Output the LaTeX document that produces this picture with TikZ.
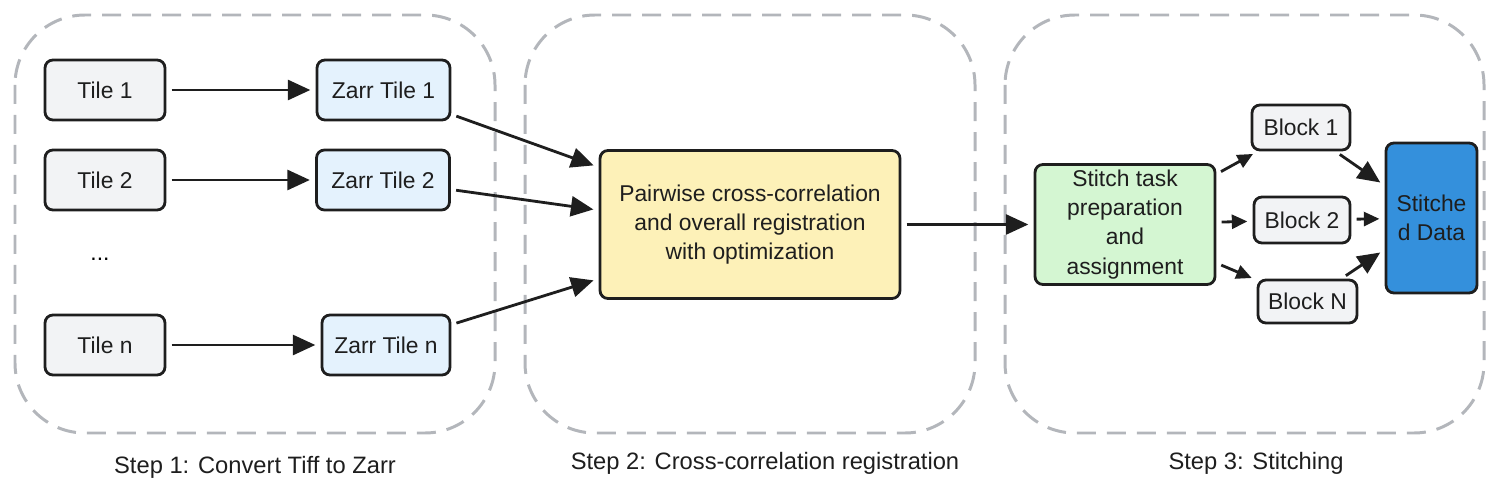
\documentclass[tikz,border=0pt]{standalone}
\usepackage{fontspec}
\setmainfont{Liberation Sans}
\usetikzlibrary{arrows.meta,positioning,calc}
\definecolor{tilegrey}{HTML}{F2F3F5}
\definecolor{zarrblue}{HTML}{E4F2FD}
\definecolor{regyellow}{HTML}{FDF1B8}
\definecolor{stitchgreen}{HTML}{D4F6D2}
\definecolor{datablue}{HTML}{3490DC}
\definecolor{groupgrey}{HTML}{B3B6BB}
\definecolor{edgeblack}{HTML}{1E1E1E}
\tikzset{
  box/.style      = {draw=edgeblack, line width=1.6pt, rounded corners=4.5pt, inner sep=2pt,
                     align=center, text=edgeblack, font=\fontsize{13}{16.6}\selectfont},
  tile/.style     = {box, fill=tilegrey, minimum width=2.4cm, minimum height=1.2cm},
  zarr/.style     = {box, fill=zarrblue, minimum width=2.66cm, minimum height=1.2cm},
  block/.style    = {box, fill=tilegrey, minimum width=1.96cm, minimum height=0.9cm},
  group/.style    = {draw=groupgrey, line width=1.7pt, dash pattern=on 0.38cm off 0.22cm,
                     rounded corners=1.4cm},
  sig/.style      = {-{Triangle[length=0.45cm, width=0.4cm]}, line width=1.6pt, draw=edgeblack,
                     shorten <=3pt, shorten >=3pt},
  sigsmall/.style = {sig, -{Triangle[length=0.31cm, width=0.28cm]}},
  steplbl/.style  = {font=\fontsize{13.5}{16}\selectfont, text=edgeblack},
}

\begin{document}
\begin{tikzpicture}[x=0.02cm, y=-0.02cm]
  \useasboundingbox (0,0) rectangle (1500,500);
  % step groups
  \draw[group] (15,15) rectangle (495,433);
  \draw[group] (525,15) rectangle (975,433);
  \draw[group] (1005,15) rectangle (1484,433);
  \node[steplbl] (lbl1) at (255,467) {Step 1: Convert Tiff to Zarr};
  \node[steplbl] (lbl2) at (765,463) {Step 2: Cross-correlation registration};
  \node[steplbl] (lbl3) at (1256,463) {Step 3: Stitching};

  % step 1
  \node[tile] (t1) at (105,90) {Tile 1};
  \node[tile] (t2) at (105,180) {Tile 2};
  \node[font=\fontsize{13}{16}\selectfont] (dots) at (100,259) {...};
  \node[tile] (tn) at (105,345) {Tile n};
  \node[zarr] (zt1) at (383.5,90) {Zarr Tile 1};
  \node[zarr] (zt2) at (383,180) {Zarr Tile 2};
  \node[zarr, minimum width=2.56cm] (ztn) at (386,345) {Zarr Tile n};
  \draw[sig] (t1) -- (zt1);
  \draw[sig] (t2) -- (zt2);
  \draw[sig] (tn) -- (ztn);

  % step 2
  \node[box, fill=regyellow, minimum width=6cm, minimum height=2.96cm] (pw) at (750,224.5)
    {Pairwise cross-correlation\\and overall registration\\with optimization};
  \coordinate (pw1) at ($(pw.north west)!0.12!(pw.south west)$);
  \coordinate (pw2) at ($(pw.north west)!0.405!(pw.south west)$);
  \coordinate (pwn) at ($(pw.north west)!0.86!(pw.south west)$);
  \draw[sig] (zt1) -- (pw1);
  \draw[sig] (zt2) -- (pw2);
  \draw[sig] (ztn) -- (pwn);

  % step 3
  \node[box, fill=stitchgreen, minimum width=3.6cm, minimum height=2.4cm] (st) at (1125,224.5)
    {Stitch task\\preparation\\and\\assignment};
  \node[block] (b1) at (1301,127.5) {Block 1};
  \node[block, minimum width=1.92cm, minimum height=0.92cm] (b2) at (1302,220) {Block 2};
  \node[block, minimum width=1.98cm, minimum height=0.86cm] (bn) at (1307.5,301.5) {Block N};
  \node[box, fill=datablue, minimum width=1.82cm, minimum height=3cm] (sd) at (1431.5,218)
    {Stitche\\d Data};
  \draw[sig] (pw) -- (st);
  \draw[sigsmall] (st) -- (b1);
  \draw[sigsmall] (st) -- (b2);
  \draw[sigsmall] (st) -- (bn);
  \draw[sig] (b1) -- (sd);
  \draw[sigsmall] (b2) -- (sd);
  \draw[sig] (bn) -- (sd);
\end{tikzpicture}
\end{document}
